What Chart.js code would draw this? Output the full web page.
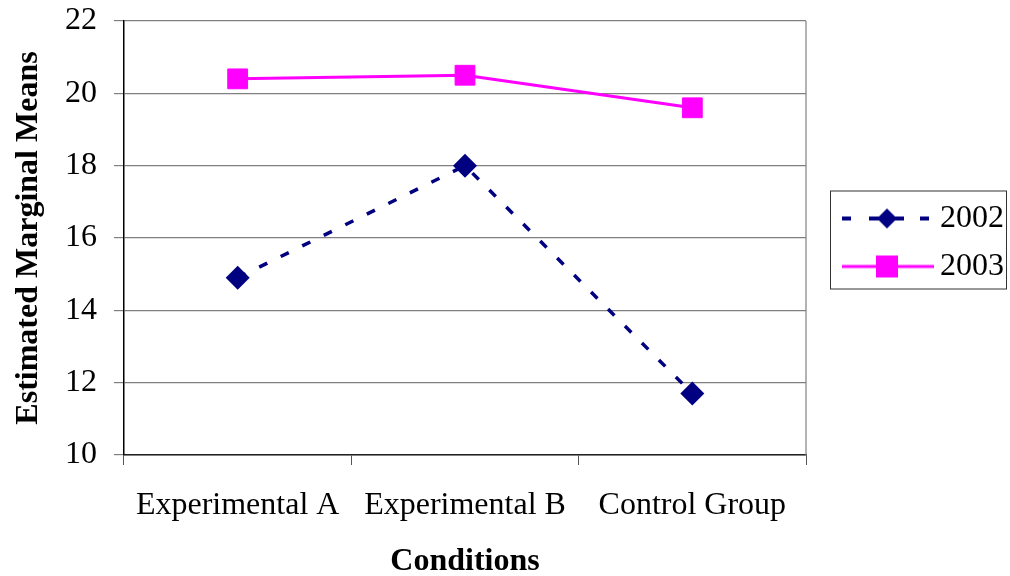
<!DOCTYPE html>
<html>
<head>
<meta charset="utf-8">
<script src="https://cdn.jsdelivr.net/npm/chart.js@4"></script>
<style>
  body { margin: 0; background: #fff; }
  #wrap { width: 1010px; height: 576px; }
</style>
</head>
<body>
<div id="wrap"><canvas id="myChart" width="1010" height="576"></canvas></div>
<script>
const conditions = ['Experimental A', 'Experimental B', 'Control Group'];
const means2002 = [14.9, 18.0, 11.7];
const means2003 = [20.4, 20.5, 19.6];
const yTicks = [10, 12, 14, 16, 18, 20, 22];

const serif = "'Liberation Serif', 'Times New Roman', serif";
Chart.defaults.font.family = serif;
Chart.defaults.color = '#000';

// little line+marker pictures for the legend (like the Excel legend keys)
function legendKey(kind) {
  const c = document.createElement('canvas');
  c.width = 122; c.height = 32;
  const g = c.getContext('2d');
  const ox = 30, cy = 16;
  if (kind === 'dash') {
    g.strokeStyle = '#000080';
    g.lineWidth = 4;
    [[0, 9], [27, 62], [78, 87]].forEach(s => {
      g.beginPath(); g.moveTo(ox + s[0], cy); g.lineTo(ox + s[1], cy); g.stroke();
    });
    g.fillStyle = '#000080';
    g.beginPath();
    g.moveTo(ox + 45, cy - 10); g.lineTo(ox + 55, cy); g.lineTo(ox + 45, cy + 10); g.lineTo(ox + 35, cy);
    g.closePath(); g.fill();
  } else {
    g.strokeStyle = '#ff00ff';
    g.lineWidth = 3;
    g.beginPath(); g.moveTo(ox, cy); g.lineTo(ox + 92, cy); g.stroke();
    g.fillStyle = '#ff00ff';
    g.fillRect(ox + 34, cy - 11, 22, 22);
  }
  return c;
}
const keys = [legendKey('dash'), legendKey('solid')];

const plotFrame = {
  id: 'plotFrame',
  afterDraw(chart) {
    const a = chart.chartArea, ctx = chart.ctx;
    ctx.save();
    ctx.strokeStyle = '#808080';
    ctx.lineWidth = 1.2;
    ctx.beginPath();
    ctx.moveTo(a.right, a.top);
    ctx.lineTo(a.right, a.bottom);
    ctx.stroke();
    // box round the legend
    const hb = chart.legend.legendHitBoxes;
    if (hb && hb.length) {
      const l = Math.min(...hb.map(h => h.left)) + 8;
      const t = Math.min(...hb.map(h => h.top)) - 12;
      const b = Math.max(...hb.map(h => h.top + h.height)) + 6;
      ctx.strokeStyle = '#333';
      ctx.lineWidth = 1;
      ctx.strokeRect(l + 0.5, t + 0.5, 1006 - l, b - t);
    }
    ctx.restore();
  }
};

new Chart(document.getElementById('myChart'), {
  type: 'line',
  data: {
    labels: conditions,
    datasets: [{
      label: '2002',
      data: means2002,
      borderColor: '#000080',
      backgroundColor: '#000080',
      borderWidth: 3.5,
      borderDash: [9, 15],
      pointStyle: 'rectRot',
      pointRadius: 12,
      pointBorderWidth: 0,
      tension: 0
    }, {
      label: '2003',
      data: means2003,
      borderColor: '#ff00ff',
      backgroundColor: '#ff00ff',
      borderWidth: 3,
      pointStyle: 'rect',
      pointRadius: 14,
      pointBorderWidth: 1,
      tension: 0
    }]
  },
  options: {
    responsive: false,
    animation: false,
    layout: { padding: { top: 21, left: 0, right: 0, bottom: 0 } },
    plugins: {
      tooltip: { enabled: false },
      legend: {
        position: 'right',
        fullSize: false,
        maxWidth: 204,
        title: { display: true, text: ' ', font: { size: 5 }, padding: 1.5 },
        labels: {
          usePointStyle: true,
          pointStyleWidth: 102,
          boxHeight: 32,
          padding: 16,
          color: '#000',
          font: { size: 32 },
          generateLabels(chart) {
            const items = Chart.defaults.plugins.legend.labels.generateLabels(chart);
            items.forEach((it, i) => { it.pointStyle = keys[i]; });
            return items;
          }
        }
      }
    },
    scales: {
      x: {
        offset: true,
        afterFit(scale) { scale.height = 121; },
        border: { display: true, color: '#222', width: 1.5 },
        grid: {
          drawOnChartArea: false,
          drawTicks: true,
          tickLength: 10,
          color: '#555',
          offset: true
        },
        ticks: { font: { size: 32 }, color: '#000', padding: 21, maxRotation: 0 },
        title: {
          display: true,
          text: 'Conditions',
          font: { size: 32, weight: 'bold' },
          color: '#000',
          padding: { top: 0, bottom: -5 }
        }
      },
      y: {
        min: 10,
        max: 22,
        afterFit(scale) { scale.width = 124; scale.paddingTop = 0; scale.paddingBottom = 0; },
        afterBuildTicks(scale) { scale.ticks = yTicks.map(v => ({ value: v })); },
        border: { display: true, color: '#000', width: 1.5 },
        grid: { color: '#808080', lineWidth: 1.2, tickLength: 10 },
        ticks: { font: { size: 32 }, color: '#000', padding: 17 },
        title: {
          display: true,
          text: 'Estimated Marginal Means',
          font: { size: 32, weight: 'bold' },
          color: '#000',
          padding: { top: 10, bottom: 0 }
        }
      }
    }
  },
  plugins: [plotFrame]
});
</script>
</body>
</html>
